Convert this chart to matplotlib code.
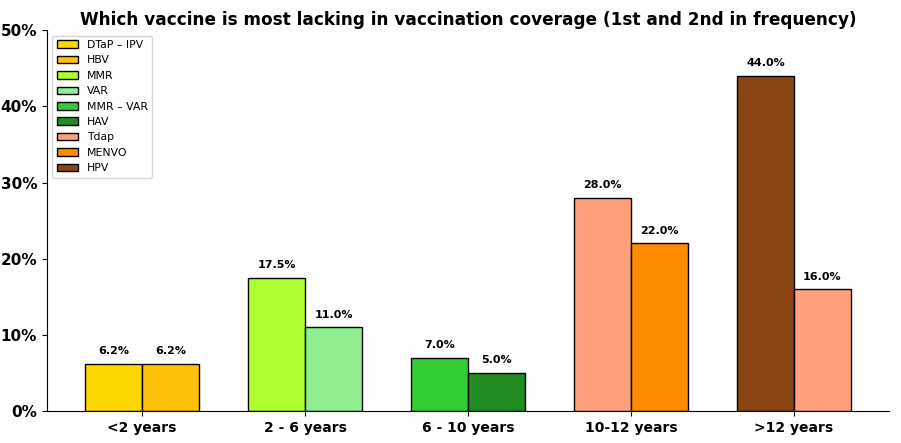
import numpy as np
import matplotlib
matplotlib.use("Agg")
import matplotlib.pyplot as plt
from matplotlib.patches import Patch

groups = ["<2 years", "2 - 6 years", "6 - 10 years", "10-12 years", ">12 years"]
first_vaccine = ["DTaP – IPV", "MMR", "MMR – VAR", "Tdap", "HPV"]
first_values = [6.2, 17.5, 7.0, 28.0, 44.0]
second_vaccine = ["HBV", "VAR", "HAV", "MENVO", "Tdap"]
second_values = [6.2, 11.0, 5.0, 22.0, 16.0]

legend_order = ["DTaP – IPV", "HBV", "MMR", "VAR", "MMR – VAR", "HAV", "Tdap", "MENVO", "HPV"]
vaccine_colors = {
    "DTaP – IPV": "#FFD700",
    "HBV": "#FFC107",
    "MMR": "#ADFF2F",
    "VAR": "#90EE90",
    "MMR – VAR": "#32CD32",
    "HAV": "#228B22",
    "Tdap": "#FFA07A",
    "MENVO": "#FF8C00",
    "HPV": "#8B4513",
}

x = np.arange(len(groups))
w = 0.35

fig, ax = plt.subplots(figsize=(9.01, 4.43), dpi=100)
fig.subplots_adjust(left=0.052, right=0.987, top=0.932, bottom=0.072)

b1 = ax.bar(x - w / 2, first_values, w, color=[vaccine_colors[v] for v in first_vaccine],
            edgecolor="black", linewidth=1)
b2 = ax.bar(x + w / 2, second_values, w, color=[vaccine_colors[v] for v in second_vaccine],
            edgecolor="black", linewidth=1)

for bars, vals in [(b1, first_values), (b2, second_values)]:
    for bar, v in zip(bars, vals):
        ax.text(bar.get_x() + bar.get_width() / 2, v + 1.0, f"{v:.1f}%",
                ha="center", va="bottom", fontsize=8, fontweight="bold")

ax.set_ylim(0, 50)
ax.set_yticks(range(0, 51, 10))
ax.set_yticklabels([f"{t}%" for t in range(0, 51, 10)], fontsize=11, fontweight="bold")
ax.set_xticks(x)
ax.set_xticklabels(groups, fontsize=10, fontweight="bold")
ax.spines["top"].set_visible(False)
ax.spines["right"].set_visible(False)

ax.set_title("Which vaccine is most lacking in vaccination coverage (1st and 2nd in frequency)",
             fontsize=12.2, fontweight="bold", pad=4)

handles = [Patch(facecolor=vaccine_colors[v], edgecolor="black", label=v) for v in legend_order]
ax.legend(handles=handles, loc="upper left", fontsize=7.8)

fig.savefig("out.png", dpi=100)
